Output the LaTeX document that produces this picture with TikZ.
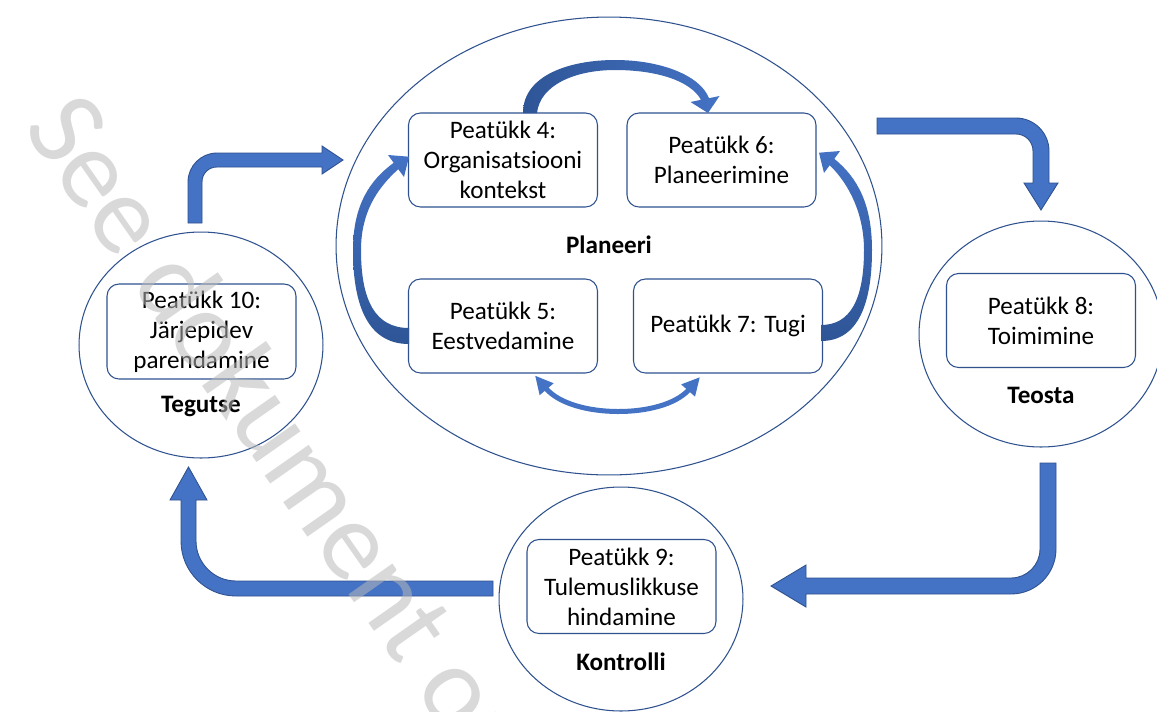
\documentclass[tikz,border=0pt]{standalone}
\usepackage{fontspec}
\setmainfont{Carlito}
\usetikzlibrary{shapes.geometric,arrows.meta}
\definecolor{abl}{HTML}{4472C4}
\definecolor{adk}{HTML}{2F528F}
\definecolor{adk2}{HTML}{2E5596}
\definecolor{wmgray}{RGB}{185,185,185}
\begin{document}
\begin{tikzpicture}[x=0.02cm,y=-0.02cm,
  box/.style={draw=adk, line width=0.6pt, rounded corners=0.24cm, minimum width=3.78cm, minimum height=1.88cm, align=center, inner sep=1pt, font=\fontsize{14.3}{17}\selectfont},
  ring/.style={draw=adk, line width=0.6pt, ellipse, inner sep=0pt},
  lbl/.style={font=\fontsize{14.3}{17}\selectfont\bfseries},
  bigarrow/.style={fill=abl, draw=adk, line width=0.5pt}]
\useasboundingbox (0,0) rectangle (1157,711);
\fill[white] (0,0) rectangle (1157,711);
\clip (0,0) rectangle (1157,711);

% containers
\node[ring, minimum width=10.92cm, minimum height=9.16cm] (plan) at (609,246) {};
\node[ring, minimum width=4.88cm, minimum height=4.52cm] (act) at (201,345) {};
\node[ring, minimum width=4.88cm, minimum height=4.52cm] (do) at (1041,334) {};
\node[ring, minimum width=4.88cm, minimum height=4.48cm] (check) at (621,599) {};

% boxes
\node[box] (b4) at (503,160) {Peatükk 4:\\Organisatsiooni\\kontekst};
\node[box] (b6) at (721.5,160) {Peatükk 6:\\Planeerimine};
\node[box] (b5) at (503,326) {Peatükk 5:\\Eestvedamine};
\node[box] (b7) at (728,326) {Peatükk 7: Tugi};
\node[box, minimum height=1.9cm] (b10) at (201.5,331.5) {Peatükk 10:\\Järjepidev\\parendamine};
\node[box] (b8) at (1041,320.5) {Peatükk 8:\\Toimimine};
\node[box] (b9) at (621.5,586.5) {Peatükk 9:\\Tulemuslikkuse\\hindamine};

% labels
\node[lbl] (lplan) at (609,245) {Planeeri};
\node[lbl] (lact) at (201,406) {Tegutse};
\node[lbl] (ldo) at (1041,395) {Teosta};
\node[lbl] (lcheck) at (621,662) {Kontrolli};

% big block arrows
\path[bigarrow] (188,223) -- (188,182) .. controls (188,166) and (201,153) .. (217,153)
  -- (322,153) -- (322,146) -- (343,160) -- (322,174) -- (322,167) -- (217,167)
  .. controls (208.7,167) and (202,173.3) .. (202,182) -- (202,223) -- cycle;
\path[bigarrow] (877,118) -- (1016,118) .. controls (1034.2,118) and (1049,132.8) .. (1049,151)
  -- (1049,183) -- (1058,183) -- (1041,210) -- (1024,183) -- (1033,183) -- (1033,151)
  .. controls (1033,141.6) and (1025.4,134) .. (1016,134) -- (877,134) -- cycle;
\path[bigarrow] (1040,463) -- (1056,463) -- (1056,549) .. controls (1056,573.9) and (1035.9,594) .. (1011,594)
  -- (806,594) -- (806,607) -- (771,586) -- (806,565) -- (806,578) -- (1011,578)
  .. controls (1027,578) and (1040,565) .. (1040,549) -- cycle;
\path[bigarrow] (493,581) -- (236,581) .. controls (214,581) and (196,563) .. (196,541)
  -- (196,500) -- (207,500) -- (188.5,467) -- (170,500) -- (181,500) -- (181,541)
  .. controls (181,571.4) and (205.6,596) .. (236,596) -- (493,596) -- cycle;

% curved arrows inside Planeeri
\shade[top color=abl, bottom color=adk2] (409,344) .. controls (365,344) and (353,300) .. (353,250)
  .. controls (353,205) and (370,180) .. (393.7,162.8) -- (388,155) -- (409,156.7) -- (404,177)
  -- (398.3,169.2) .. controls (375,190) and (361,215) .. (361,250)
  .. controls (361,300) and (375,328) .. (409,328) -- cycle;
\shade[top color=abl, bottom color=adk2] (821,341) .. controls (860,341) and (872,300) .. (872,250)
  .. controls (872,205) and (858,178) .. (834.3,158.8) -- (840,151) -- (819,152.7) -- (824,173)
  -- (829.7,165.2) .. controls (850,185) and (864,215) .. (864,250)
  .. controls (864,300) and (850,325) .. (821,325) -- cycle;
\shade[left color=adk2, right color=abl] (523,113) .. controls (523,75) and (570,60) .. (615,60)
  .. controls (660,60) and (700,75) .. (709,98.2) -- (719.5,96) -- (708,113) -- (690.5,102)
  -- (701,99.8) .. controls (690,80) and (655,70) .. (615,70)
  .. controls (575,70) and (540,85) .. (537,113) -- cycle;
\draw[abl, line width=0.1cm, {Triangle[length=0.36cm,width=0.34cm]}-{Triangle[length=0.36cm,width=0.34cm]}]
  (b5.south) ++(32,2) .. controls (572,419) and (663,419) .. (700,377);

% watermark
\node[rotate=-55, anchor=base west, text=wmgray, text opacity=0.54, inner sep=0pt,
  font=\fontsize{64}{64}\selectfont] (wm) at (22,128) {See dokument on};
\end{tikzpicture}
\end{document}
